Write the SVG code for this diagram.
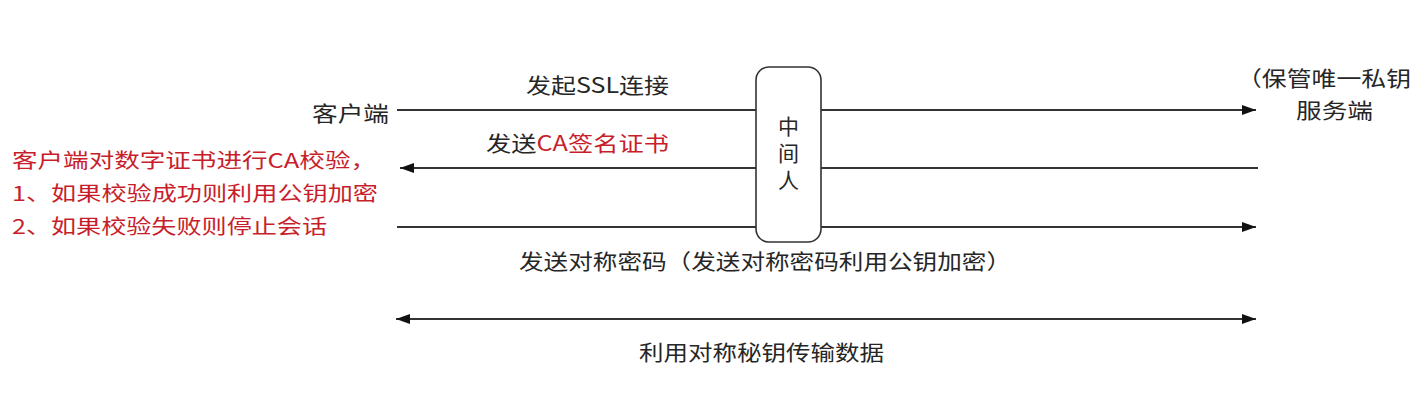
<svg xmlns="http://www.w3.org/2000/svg" width="1413" height="409" viewBox="0 0 1413 409">
<style>
text{font-family:"Noto Sans CJK SC","Noto Sans",sans-serif;fill:#262626}
.t{font-size:21px}
.r{fill:#c81e2c}
.red{font-size:20px;fill:#c81e2c}
.ln{stroke:#333;stroke-width:2;fill:none}
.box{fill:#fff;stroke:#333;stroke-width:1.6}
.v{font-size:21px;writing-mode:vertical-rl;letter-spacing:6px}
</style>
<defs>
<marker id="arr" markerUnits="userSpaceOnUse" markerWidth="14" markerHeight="10" refX="14" refY="5" orient="auto-start-reverse">
<path d="M0,0 L14,5 L0,10 z" fill="#111"/>
</marker>
</defs>
<rect width="1413" height="409" fill="#fff"/>
<g id="connectors">
<line class="ln" x1="397" y1="110" x2="1256" y2="110" marker-end="url(#arr)"/>
<line class="ln" x1="1258" y1="168" x2="400" y2="168" marker-end="url(#arr)"/>
<line class="ln" x1="397" y1="227" x2="1256" y2="227" marker-end="url(#arr)"/>
<line class="ln" x1="396" y1="319" x2="1256" y2="319" marker-start="url(#arr)" marker-end="url(#arr)"/>
<text class="t" x="526" y="93" textLength="143" lengthAdjust="spacingAndGlyphs">发起SSL连接</text>
<text class="t" x="486" y="151" textLength="183" lengthAdjust="spacingAndGlyphs">发送<tspan class="r">CA签名证书</tspan></text>
<text class="t" x="519" y="269" textLength="492" lengthAdjust="spacingAndGlyphs">发送对称密码（发送对称密码利用公钥加密）</text>
<text class="t" x="639" y="360" textLength="245" lengthAdjust="spacingAndGlyphs">利用对称秘钥传输数据</text>
</g>
<g id="client">
<text class="t" x="312" y="121" textLength="77" lengthAdjust="spacingAndGlyphs">客户端</text>
</g>
<g id="server">
<text class="t" x="1237" y="86" textLength="174" lengthAdjust="spacingAndGlyphs">（保管唯一私钥</text>
<text class="t" x="1296" y="118" textLength="77" lengthAdjust="spacingAndGlyphs">服务端</text>
</g>
<g id="middleman">
<rect class="box" x="756" y="67" width="65" height="175" rx="13"/>
<text class="v" x="788.5" y="116">中间人</text>
</g>
<g id="client-check">
<text class="red" x="12" y="168" textLength="364" lengthAdjust="spacingAndGlyphs">客户端对数字证书进行CA校验，</text>
<text class="red" x="12" y="201" textLength="366" lengthAdjust="spacingAndGlyphs">1、如果校验成功则利用公钥加密</text>
<text class="red" x="12" y="234" textLength="315" lengthAdjust="spacingAndGlyphs">2、如果校验失败则停止会话</text>
</g>
</svg>
